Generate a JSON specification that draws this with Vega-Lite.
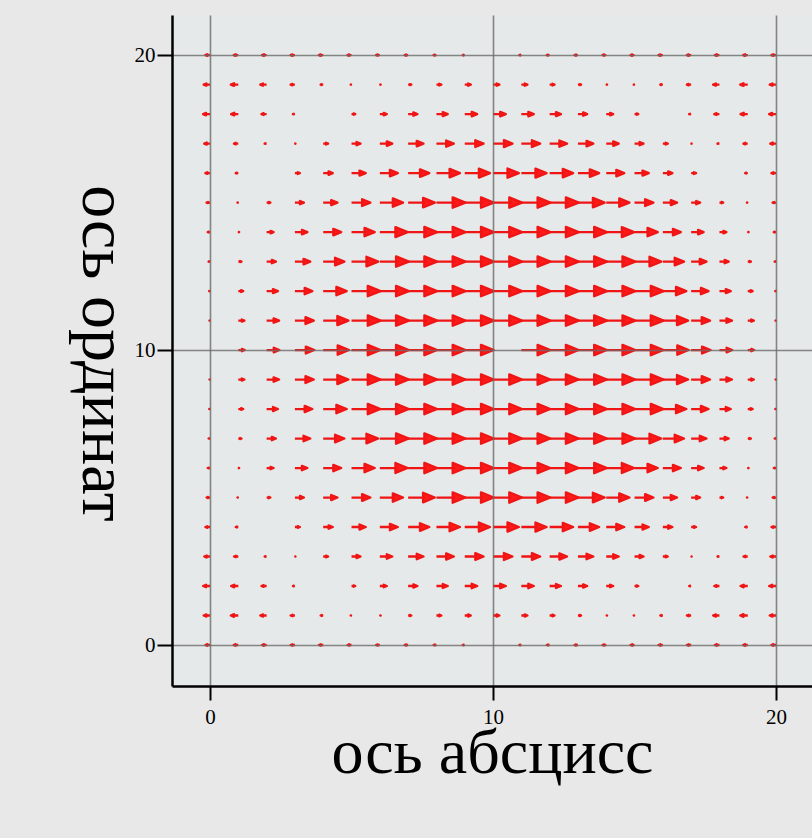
{
"$schema": "https://vega.github.io/schema/vega-lite/v6.json",
"width": 640,
"height": 671,
"autosize": {"type": "none"},
"padding": {"left": 172, "top": 15, "right": 0, "bottom": 152},
"background": "#e8e8e8",
"config": {"view": {"stroke": null, "fill": "#e6e9e9"}},
"data": {"values": [
{"x":0,"y":20,"m":0.16,"a":180},{"x":1,"y":20,"m":0.16,"a":180},{"x":2,"y":20,"m":0.16,"a":180},{"x":3,"y":20,"m":0.15,"a":180},{"x":4,"y":20,"m":0.15,"a":180},{"x":5,"y":20,"m":0.14,"a":180},{"x":6,"y":20,"m":0.13,"a":180},{"x":7,"y":20,"m":0.12,"a":180},{"x":8,"y":20,"m":0.1,"a":180},{"x":9,"y":20,"m":0.07,"a":180},{"x":10,"y":20,"m":0,"a":0},{"x":11,"y":20,"m":0.07,"a":180},{"x":12,"y":20,"m":0.1,"a":180},{"x":13,"y":20,"m":0.12,"a":180},{"x":14,"y":20,"m":0.13,"a":180},{"x":15,"y":20,"m":0.14,"a":180},{"x":16,"y":20,"m":0.15,"a":180},{"x":17,"y":20,"m":0.15,"a":180},{"x":18,"y":20,"m":0.16,"a":180},{"x":19,"y":20,"m":0.16,"a":180},{"x":20,"y":20,"m":0.16,"a":180},
{"x":0,"y":19,"m":0.22,"a":180},{"x":1,"y":19,"m":0.26,"a":180},{"x":2,"y":19,"m":0.22,"a":180},{"x":3,"y":19,"m":0.15,"a":180},{"x":4,"y":19,"m":0.09,"a":180},{"x":5,"y":19,"m":0.03,"a":180},{"x":6,"y":19,"m":0.03,"a":0},{"x":7,"y":19,"m":0.11,"a":0},{"x":8,"y":19,"m":0.17,"a":0},{"x":9,"y":19,"m":0.21,"a":0},{"x":10,"y":19,"m":0.22,"a":0},{"x":11,"y":19,"m":0.21,"a":0},{"x":12,"y":19,"m":0.17,"a":0},{"x":13,"y":19,"m":0.11,"a":0},{"x":14,"y":19,"m":0.03,"a":0},{"x":15,"y":19,"m":0.03,"a":180},{"x":16,"y":19,"m":0.09,"a":180},{"x":17,"y":19,"m":0.15,"a":180},{"x":18,"y":19,"m":0.22,"a":180},{"x":19,"y":19,"m":0.26,"a":180},{"x":20,"y":19,"m":0.22,"a":180},
{"x":0,"y":18,"m":0.24,"a":180},{"x":1,"y":18,"m":0.25,"a":180},{"x":2,"y":18,"m":0.18,"a":180},{"x":3,"y":18,"m":0.07,"a":180},{"x":4,"y":18,"m":0,"a":0},{"x":5,"y":18,"m":0.13,"a":0},{"x":6,"y":18,"m":0.24,"a":0},{"x":7,"y":18,"m":0.32,"a":0},{"x":8,"y":18,"m":0.39,"a":0},{"x":9,"y":18,"m":0.43,"a":0},{"x":10,"y":18,"m":0.44,"a":0},{"x":11,"y":18,"m":0.43,"a":0},{"x":12,"y":18,"m":0.39,"a":0},{"x":13,"y":18,"m":0.32,"a":0},{"x":14,"y":18,"m":0.24,"a":0},{"x":15,"y":18,"m":0.13,"a":0},{"x":16,"y":18,"m":0,"a":0},{"x":17,"y":18,"m":0.07,"a":180},{"x":18,"y":18,"m":0.18,"a":180},{"x":19,"y":18,"m":0.25,"a":180},{"x":20,"y":18,"m":0.24,"a":180},
{"x":0,"y":17,"m":0.2,"a":180},{"x":1,"y":17,"m":0.15,"a":180},{"x":2,"y":17,"m":0.07,"a":180},{"x":3,"y":17,"m":0.02,"a":0},{"x":4,"y":17,"m":0.17,"a":0},{"x":5,"y":17,"m":0.31,"a":0},{"x":6,"y":17,"m":0.43,"a":0},{"x":7,"y":17,"m":0.53,"a":0},{"x":8,"y":17,"m":0.6,"a":0},{"x":9,"y":17,"m":0.65,"a":0},{"x":10,"y":17,"m":0.67,"a":0},{"x":11,"y":17,"m":0.65,"a":0},{"x":12,"y":17,"m":0.6,"a":0},{"x":13,"y":17,"m":0.53,"a":0},{"x":14,"y":17,"m":0.43,"a":0},{"x":15,"y":17,"m":0.31,"a":0},{"x":16,"y":17,"m":0.17,"a":0},{"x":17,"y":17,"m":0.02,"a":0},{"x":18,"y":17,"m":0.07,"a":180},{"x":19,"y":17,"m":0.15,"a":180},{"x":20,"y":17,"m":0.2,"a":180},
{"x":0,"y":16,"m":0.16,"a":180},{"x":1,"y":16,"m":0.09,"a":180},{"x":2,"y":16,"m":0,"a":0},{"x":3,"y":16,"m":0.17,"a":0},{"x":4,"y":16,"m":0.33,"a":0},{"x":5,"y":16,"m":0.49,"a":0},{"x":6,"y":16,"m":0.62,"a":0},{"x":7,"y":16,"m":0.73,"a":0},{"x":8,"y":16,"m":0.81,"a":0},{"x":9,"y":16,"m":0.87,"a":0},{"x":10,"y":16,"m":0.89,"a":0},{"x":11,"y":16,"m":0.87,"a":0},{"x":12,"y":16,"m":0.81,"a":0},{"x":13,"y":16,"m":0.73,"a":0},{"x":14,"y":16,"m":0.62,"a":0},{"x":15,"y":16,"m":0.49,"a":0},{"x":16,"y":16,"m":0.33,"a":0},{"x":17,"y":16,"m":0.17,"a":0},{"x":18,"y":16,"m":0,"a":0},{"x":19,"y":16,"m":0.09,"a":180},{"x":20,"y":16,"m":0.16,"a":180},
{"x":0,"y":15,"m":0.12,"a":180},{"x":1,"y":15,"m":0.03,"a":180},{"x":2,"y":15,"m":0.13,"a":0},{"x":3,"y":15,"m":0.31,"a":0},{"x":4,"y":15,"m":0.49,"a":0},{"x":5,"y":15,"m":0.65,"a":0},{"x":6,"y":15,"m":0.8,"a":0},{"x":7,"y":15,"m":0.92,"a":0},{"x":8,"y":15,"m":1,"a":0},{"x":9,"y":15,"m":1,"a":0},{"x":10,"y":15,"m":1,"a":0},{"x":11,"y":15,"m":1,"a":0},{"x":12,"y":15,"m":1,"a":0},{"x":13,"y":15,"m":0.92,"a":0},{"x":14,"y":15,"m":0.8,"a":0},{"x":15,"y":15,"m":0.65,"a":0},{"x":16,"y":15,"m":0.49,"a":0},{"x":17,"y":15,"m":0.31,"a":0},{"x":18,"y":15,"m":0.13,"a":0},{"x":19,"y":15,"m":0.03,"a":180},{"x":20,"y":15,"m":0.12,"a":180},
{"x":0,"y":14,"m":0.08,"a":180},{"x":1,"y":14,"m":0.03,"a":0},{"x":2,"y":14,"m":0.24,"a":0},{"x":3,"y":14,"m":0.43,"a":0},{"x":4,"y":14,"m":0.62,"a":0},{"x":5,"y":14,"m":0.8,"a":0},{"x":6,"y":14,"m":0.96,"a":0},{"x":7,"y":14,"m":1,"a":0},{"x":8,"y":14,"m":1,"a":0},{"x":9,"y":14,"m":1,"a":0},{"x":10,"y":14,"m":1,"a":0},{"x":11,"y":14,"m":1,"a":0},{"x":12,"y":14,"m":1,"a":0},{"x":13,"y":14,"m":1,"a":0},{"x":14,"y":14,"m":0.96,"a":0},{"x":15,"y":14,"m":0.8,"a":0},{"x":16,"y":14,"m":0.62,"a":0},{"x":17,"y":14,"m":0.43,"a":0},{"x":18,"y":14,"m":0.24,"a":0},{"x":19,"y":14,"m":0.03,"a":0},{"x":20,"y":14,"m":0.08,"a":180},
{"x":0,"y":13,"m":0.05,"a":180},{"x":1,"y":13,"m":0.11,"a":0},{"x":2,"y":13,"m":0.32,"a":0},{"x":3,"y":13,"m":0.53,"a":0},{"x":4,"y":13,"m":0.73,"a":0},{"x":5,"y":13,"m":0.92,"a":0},{"x":6,"y":13,"m":1,"a":0},{"x":7,"y":13,"m":1,"a":0},{"x":8,"y":13,"m":1,"a":0},{"x":9,"y":13,"m":1,"a":0},{"x":10,"y":13,"m":1,"a":0},{"x":11,"y":13,"m":1,"a":0},{"x":12,"y":13,"m":1,"a":0},{"x":13,"y":13,"m":1,"a":0},{"x":14,"y":13,"m":1,"a":0},{"x":15,"y":13,"m":0.92,"a":0},{"x":16,"y":13,"m":0.73,"a":0},{"x":17,"y":13,"m":0.53,"a":0},{"x":18,"y":13,"m":0.32,"a":0},{"x":19,"y":13,"m":0.11,"a":0},{"x":20,"y":13,"m":0.05,"a":180},
{"x":0,"y":12,"m":0.03,"a":180},{"x":1,"y":12,"m":0.17,"a":0},{"x":2,"y":12,"m":0.39,"a":0},{"x":3,"y":12,"m":0.6,"a":0},{"x":4,"y":12,"m":0.81,"a":0},{"x":5,"y":12,"m":1,"a":0},{"x":6,"y":12,"m":1,"a":0},{"x":7,"y":12,"m":1,"a":0},{"x":8,"y":12,"m":1,"a":0},{"x":9,"y":12,"m":1,"a":0},{"x":10,"y":12,"m":1,"a":0},{"x":11,"y":12,"m":1,"a":0},{"x":12,"y":12,"m":1,"a":0},{"x":13,"y":12,"m":1,"a":0},{"x":14,"y":12,"m":1,"a":0},{"x":15,"y":12,"m":1,"a":0},{"x":16,"y":12,"m":0.81,"a":0},{"x":17,"y":12,"m":0.6,"a":0},{"x":18,"y":12,"m":0.39,"a":0},{"x":19,"y":12,"m":0.17,"a":0},{"x":20,"y":12,"m":0.03,"a":180},
{"x":0,"y":11,"m":0.02,"a":180},{"x":1,"y":11,"m":0.21,"a":0},{"x":2,"y":11,"m":0.43,"a":0},{"x":3,"y":11,"m":0.65,"a":0},{"x":4,"y":11,"m":0.87,"a":0},{"x":5,"y":11,"m":1,"a":0},{"x":6,"y":11,"m":1,"a":0},{"x":7,"y":11,"m":1,"a":0},{"x":8,"y":11,"m":1,"a":0},{"x":9,"y":11,"m":1,"a":0},{"x":10,"y":11,"m":1,"a":0},{"x":11,"y":11,"m":1,"a":0},{"x":12,"y":11,"m":1,"a":0},{"x":13,"y":11,"m":1,"a":0},{"x":14,"y":11,"m":1,"a":0},{"x":15,"y":11,"m":1,"a":0},{"x":16,"y":11,"m":0.87,"a":0},{"x":17,"y":11,"m":0.65,"a":0},{"x":18,"y":11,"m":0.43,"a":0},{"x":19,"y":11,"m":0.21,"a":0},{"x":20,"y":11,"m":0.02,"a":180},
{"x":0,"y":10,"m":0,"a":0},{"x":1,"y":10,"m":0.22,"a":0},{"x":2,"y":10,"m":0.44,"a":0},{"x":3,"y":10,"m":0.67,"a":0},{"x":4,"y":10,"m":0.89,"a":0},{"x":5,"y":10,"m":1,"a":0},{"x":6,"y":10,"m":1,"a":0},{"x":7,"y":10,"m":1,"a":0},{"x":8,"y":10,"m":1,"a":0},{"x":9,"y":10,"m":1,"a":0},{"x":10,"y":10,"m":0,"a":0},{"x":11,"y":10,"m":1,"a":0},{"x":12,"y":10,"m":1,"a":0},{"x":13,"y":10,"m":1,"a":0},{"x":14,"y":10,"m":1,"a":0},{"x":15,"y":10,"m":1,"a":0},{"x":16,"y":10,"m":0.89,"a":0},{"x":17,"y":10,"m":0.67,"a":0},{"x":18,"y":10,"m":0.44,"a":0},{"x":19,"y":10,"m":0.22,"a":0},{"x":20,"y":10,"m":0,"a":0},
{"x":0,"y":9,"m":0.02,"a":180},{"x":1,"y":9,"m":0.21,"a":0},{"x":2,"y":9,"m":0.43,"a":0},{"x":3,"y":9,"m":0.65,"a":0},{"x":4,"y":9,"m":0.87,"a":0},{"x":5,"y":9,"m":1,"a":0},{"x":6,"y":9,"m":1,"a":0},{"x":7,"y":9,"m":1,"a":0},{"x":8,"y":9,"m":1,"a":0},{"x":9,"y":9,"m":1,"a":0},{"x":10,"y":9,"m":1,"a":0},{"x":11,"y":9,"m":1,"a":0},{"x":12,"y":9,"m":1,"a":0},{"x":13,"y":9,"m":1,"a":0},{"x":14,"y":9,"m":1,"a":0},{"x":15,"y":9,"m":1,"a":0},{"x":16,"y":9,"m":0.87,"a":0},{"x":17,"y":9,"m":0.65,"a":0},{"x":18,"y":9,"m":0.43,"a":0},{"x":19,"y":9,"m":0.21,"a":0},{"x":20,"y":9,"m":0.02,"a":180},
{"x":0,"y":8,"m":0.03,"a":180},{"x":1,"y":8,"m":0.17,"a":0},{"x":2,"y":8,"m":0.39,"a":0},{"x":3,"y":8,"m":0.6,"a":0},{"x":4,"y":8,"m":0.81,"a":0},{"x":5,"y":8,"m":1,"a":0},{"x":6,"y":8,"m":1,"a":0},{"x":7,"y":8,"m":1,"a":0},{"x":8,"y":8,"m":1,"a":0},{"x":9,"y":8,"m":1,"a":0},{"x":10,"y":8,"m":1,"a":0},{"x":11,"y":8,"m":1,"a":0},{"x":12,"y":8,"m":1,"a":0},{"x":13,"y":8,"m":1,"a":0},{"x":14,"y":8,"m":1,"a":0},{"x":15,"y":8,"m":1,"a":0},{"x":16,"y":8,"m":0.81,"a":0},{"x":17,"y":8,"m":0.6,"a":0},{"x":18,"y":8,"m":0.39,"a":0},{"x":19,"y":8,"m":0.17,"a":0},{"x":20,"y":8,"m":0.03,"a":180},
{"x":0,"y":7,"m":0.05,"a":180},{"x":1,"y":7,"m":0.11,"a":0},{"x":2,"y":7,"m":0.32,"a":0},{"x":3,"y":7,"m":0.53,"a":0},{"x":4,"y":7,"m":0.73,"a":0},{"x":5,"y":7,"m":0.92,"a":0},{"x":6,"y":7,"m":1,"a":0},{"x":7,"y":7,"m":1,"a":0},{"x":8,"y":7,"m":1,"a":0},{"x":9,"y":7,"m":1,"a":0},{"x":10,"y":7,"m":1,"a":0},{"x":11,"y":7,"m":1,"a":0},{"x":12,"y":7,"m":1,"a":0},{"x":13,"y":7,"m":1,"a":0},{"x":14,"y":7,"m":1,"a":0},{"x":15,"y":7,"m":0.92,"a":0},{"x":16,"y":7,"m":0.73,"a":0},{"x":17,"y":7,"m":0.53,"a":0},{"x":18,"y":7,"m":0.32,"a":0},{"x":19,"y":7,"m":0.11,"a":0},{"x":20,"y":7,"m":0.05,"a":180},
{"x":0,"y":6,"m":0.08,"a":180},{"x":1,"y":6,"m":0.03,"a":0},{"x":2,"y":6,"m":0.24,"a":0},{"x":3,"y":6,"m":0.43,"a":0},{"x":4,"y":6,"m":0.62,"a":0},{"x":5,"y":6,"m":0.8,"a":0},{"x":6,"y":6,"m":0.96,"a":0},{"x":7,"y":6,"m":1,"a":0},{"x":8,"y":6,"m":1,"a":0},{"x":9,"y":6,"m":1,"a":0},{"x":10,"y":6,"m":1,"a":0},{"x":11,"y":6,"m":1,"a":0},{"x":12,"y":6,"m":1,"a":0},{"x":13,"y":6,"m":1,"a":0},{"x":14,"y":6,"m":0.96,"a":0},{"x":15,"y":6,"m":0.8,"a":0},{"x":16,"y":6,"m":0.62,"a":0},{"x":17,"y":6,"m":0.43,"a":0},{"x":18,"y":6,"m":0.24,"a":0},{"x":19,"y":6,"m":0.03,"a":0},{"x":20,"y":6,"m":0.08,"a":180},
{"x":0,"y":5,"m":0.12,"a":180},{"x":1,"y":5,"m":0.03,"a":180},{"x":2,"y":5,"m":0.13,"a":0},{"x":3,"y":5,"m":0.31,"a":0},{"x":4,"y":5,"m":0.49,"a":0},{"x":5,"y":5,"m":0.65,"a":0},{"x":6,"y":5,"m":0.8,"a":0},{"x":7,"y":5,"m":0.92,"a":0},{"x":8,"y":5,"m":1,"a":0},{"x":9,"y":5,"m":1,"a":0},{"x":10,"y":5,"m":1,"a":0},{"x":11,"y":5,"m":1,"a":0},{"x":12,"y":5,"m":1,"a":0},{"x":13,"y":5,"m":0.92,"a":0},{"x":14,"y":5,"m":0.8,"a":0},{"x":15,"y":5,"m":0.65,"a":0},{"x":16,"y":5,"m":0.49,"a":0},{"x":17,"y":5,"m":0.31,"a":0},{"x":18,"y":5,"m":0.13,"a":0},{"x":19,"y":5,"m":0.03,"a":180},{"x":20,"y":5,"m":0.12,"a":180},
{"x":0,"y":4,"m":0.16,"a":180},{"x":1,"y":4,"m":0.09,"a":180},{"x":2,"y":4,"m":0,"a":0},{"x":3,"y":4,"m":0.17,"a":0},{"x":4,"y":4,"m":0.33,"a":0},{"x":5,"y":4,"m":0.49,"a":0},{"x":6,"y":4,"m":0.62,"a":0},{"x":7,"y":4,"m":0.73,"a":0},{"x":8,"y":4,"m":0.81,"a":0},{"x":9,"y":4,"m":0.87,"a":0},{"x":10,"y":4,"m":0.89,"a":0},{"x":11,"y":4,"m":0.87,"a":0},{"x":12,"y":4,"m":0.81,"a":0},{"x":13,"y":4,"m":0.73,"a":0},{"x":14,"y":4,"m":0.62,"a":0},{"x":15,"y":4,"m":0.49,"a":0},{"x":16,"y":4,"m":0.33,"a":0},{"x":17,"y":4,"m":0.17,"a":0},{"x":18,"y":4,"m":0,"a":0},{"x":19,"y":4,"m":0.09,"a":180},{"x":20,"y":4,"m":0.16,"a":180},
{"x":0,"y":3,"m":0.2,"a":180},{"x":1,"y":3,"m":0.15,"a":180},{"x":2,"y":3,"m":0.07,"a":180},{"x":3,"y":3,"m":0.02,"a":0},{"x":4,"y":3,"m":0.17,"a":0},{"x":5,"y":3,"m":0.31,"a":0},{"x":6,"y":3,"m":0.43,"a":0},{"x":7,"y":3,"m":0.53,"a":0},{"x":8,"y":3,"m":0.6,"a":0},{"x":9,"y":3,"m":0.65,"a":0},{"x":10,"y":3,"m":0.67,"a":0},{"x":11,"y":3,"m":0.65,"a":0},{"x":12,"y":3,"m":0.6,"a":0},{"x":13,"y":3,"m":0.53,"a":0},{"x":14,"y":3,"m":0.43,"a":0},{"x":15,"y":3,"m":0.31,"a":0},{"x":16,"y":3,"m":0.17,"a":0},{"x":17,"y":3,"m":0.02,"a":0},{"x":18,"y":3,"m":0.07,"a":180},{"x":19,"y":3,"m":0.15,"a":180},{"x":20,"y":3,"m":0.2,"a":180},
{"x":0,"y":2,"m":0.24,"a":180},{"x":1,"y":2,"m":0.25,"a":180},{"x":2,"y":2,"m":0.18,"a":180},{"x":3,"y":2,"m":0.07,"a":180},{"x":4,"y":2,"m":0,"a":0},{"x":5,"y":2,"m":0.13,"a":0},{"x":6,"y":2,"m":0.24,"a":0},{"x":7,"y":2,"m":0.32,"a":0},{"x":8,"y":2,"m":0.39,"a":0},{"x":9,"y":2,"m":0.43,"a":0},{"x":10,"y":2,"m":0.44,"a":0},{"x":11,"y":2,"m":0.43,"a":0},{"x":12,"y":2,"m":0.39,"a":0},{"x":13,"y":2,"m":0.32,"a":0},{"x":14,"y":2,"m":0.24,"a":0},{"x":15,"y":2,"m":0.13,"a":0},{"x":16,"y":2,"m":0,"a":0},{"x":17,"y":2,"m":0.07,"a":180},{"x":18,"y":2,"m":0.18,"a":180},{"x":19,"y":2,"m":0.25,"a":180},{"x":20,"y":2,"m":0.24,"a":180},
{"x":0,"y":1,"m":0.22,"a":180},{"x":1,"y":1,"m":0.26,"a":180},{"x":2,"y":1,"m":0.22,"a":180},{"x":3,"y":1,"m":0.15,"a":180},{"x":4,"y":1,"m":0.09,"a":180},{"x":5,"y":1,"m":0.03,"a":180},{"x":6,"y":1,"m":0.03,"a":0},{"x":7,"y":1,"m":0.11,"a":0},{"x":8,"y":1,"m":0.17,"a":0},{"x":9,"y":1,"m":0.21,"a":0},{"x":10,"y":1,"m":0.22,"a":0},{"x":11,"y":1,"m":0.21,"a":0},{"x":12,"y":1,"m":0.17,"a":0},{"x":13,"y":1,"m":0.11,"a":0},{"x":14,"y":1,"m":0.03,"a":0},{"x":15,"y":1,"m":0.03,"a":180},{"x":16,"y":1,"m":0.09,"a":180},{"x":17,"y":1,"m":0.15,"a":180},{"x":18,"y":1,"m":0.22,"a":180},{"x":19,"y":1,"m":0.26,"a":180},{"x":20,"y":1,"m":0.22,"a":180},
{"x":0,"y":0,"m":0.16,"a":180},{"x":1,"y":0,"m":0.16,"a":180},{"x":2,"y":0,"m":0.16,"a":180},{"x":3,"y":0,"m":0.15,"a":180},{"x":4,"y":0,"m":0.15,"a":180},{"x":5,"y":0,"m":0.14,"a":180},{"x":6,"y":0,"m":0.13,"a":180},{"x":7,"y":0,"m":0.12,"a":180},{"x":8,"y":0,"m":0.1,"a":180},{"x":9,"y":0,"m":0.07,"a":180},{"x":10,"y":0,"m":0,"a":0},{"x":11,"y":0,"m":0.07,"a":180},{"x":12,"y":0,"m":0.1,"a":180},{"x":13,"y":0,"m":0.12,"a":180},{"x":14,"y":0,"m":0.13,"a":180},{"x":15,"y":0,"m":0.14,"a":180},{"x":16,"y":0,"m":0.15,"a":180},{"x":17,"y":0,"m":0.15,"a":180},{"x":18,"y":0,"m":0.16,"a":180},{"x":19,"y":0,"m":0.16,"a":180},{"x":20,"y":0,"m":0.16,"a":180}
]},
"mark": {"type": "point", "shape": "M0,0L1.3,0M1.12,-0.36L2,0L1.12,0.36Z", "filled": true, "fill": "#ff1a1a", "stroke": "#f01515", "strokeWidth": 2.3, "strokeJoin": "round", "opacity": 1, "strokeCap": "butt"},
"encoding": {
"x": {"field": "x", "type": "quantitative",
 "scale": {"domain": [-1.343, 21.27], "nice": false, "zero": false},
 "axis": {"values": [0, 10, 20], "zindex": 1, "domainColor": "#000000", "domainWidth": 2.5, "tickColor": "#000000", "tickWidth": 2, "tickSize": 14,
  "labelFont": "Liberation Serif", "labelFontSize": 21, "labelColor": "#000000", "labelPadding": 6, "labelFlush": false,
  "grid": true, "gridColor": "#6a6a6a", "gridWidth": 1.6, "gridOpacity": 0.8,
  "title": "ось абсцисс", "titleFont": "Liberation Serif", "titleFontSize": 64, "titleFontWeight": "normal", "titleColor": "#000000",
  "titleX": 320, "titleY": 86, "titleBaseline": "alphabetic", "titleAlign": "center"}},
"y": {"field": "y", "type": "quantitative",
 "scale": {"domain": [-1.39, 21.36], "nice": false, "zero": false},
 "axis": {"values": [0, 10, 20], "zindex": 1, "domainColor": "#000000", "domainWidth": 2.5, "tickColor": "#000000", "tickWidth": 2, "tickSize": 15,
  "labelFont": "Liberation Serif", "labelFontSize": 21, "labelColor": "#000000", "labelPadding": 2, "labelFlush": false,
  "grid": true, "gridColor": "#6a6a6a", "gridWidth": 1.6, "gridOpacity": 0.8,
  "title": "ось ординат", "titleFont": "Liberation Serif", "titleFontSize": 66, "titleFontWeight": "normal", "titleColor": "#000000",
  "titleAngle": 90, "titleX": -90, "titleY": 338, "titleBaseline": "alphabetic", "titleAlign": "center"}},
"size": {"field": "m", "type": "quantitative", "scale": {"type": "pow", "exponent": 2, "domain": [0, 1], "range": [0, 841]}, "legend": null},
"angle": {"field": "a", "type": "quantitative", "scale": {"domain": [0, 360], "range": [0, 360]}, "legend": null}
}
}
